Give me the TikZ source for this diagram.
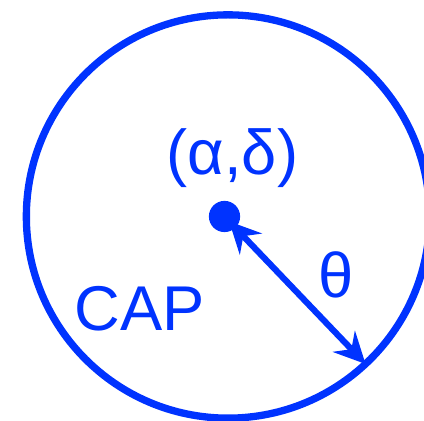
\documentclass[tikz,border=0pt]{standalone}
\usepackage{fontspec}
\setmainfont{Liberation Sans}
\usepackage{tikz}
\usetikzlibrary{arrows.meta}

\definecolor{capblue}{RGB}{0,51,255}

\begin{document}
\begin{tikzpicture}[
    x=0.025cm, y=0.025cm,
    ring/.style={circle, draw=capblue, line width=0.1825cm, minimum size=10.08cm, inner sep=0pt, outer sep=0pt},
    dot/.style={circle, fill=capblue, minimum size=0.78cm, inner sep=0pt},
    lbl/.style={text=capblue, font=\fontsize{45}{54}\selectfont, inner sep=0pt},
    arr/.style={{Stealth[length=0.78cm, width=0.76cm, inset=0.27cm]}-{Stealth[length=0.78cm, width=0.76cm, inset=0.27cm]}, line width=0.155cm, draw=capblue}
]
    \useasboundingbox (0,0) rectangle (424,421);
    \node [ring] (ring) at (228,204.5) {};
    \node [dot] (centre) at (224.5,204.5) {};
    \node [lbl] (coords) at (232.5,263) {(α,δ)};
    \node [lbl] (theta) at (336,146) {θ};
    \node [lbl] (cap) at (140,112) {CAP};

    \draw [arr, shorten <=0.17cm] (centre.center) -- (ring.-47);
\end{tikzpicture}
\end{document}
